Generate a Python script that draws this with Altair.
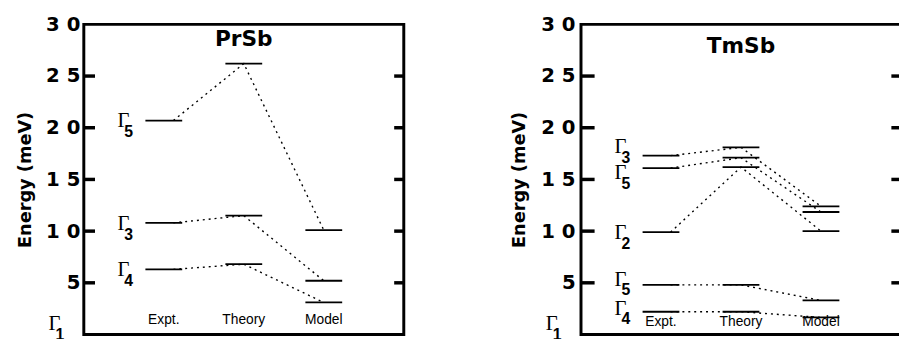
import altair as alt
import pandas as pd

# ---------------- data ----------------
columns = ["Expt.", "Theory", "Model"]
tick_values = [5, 10, 15, 20, 25]

prsb_labels = ["5", "3", "4"]
prsb_expt = [20.7, 10.8, 6.3]
prsb_theory = [26.2, 11.5, 6.8]
prsb_model = [10.1, 5.2, 3.1]

tmsb_labels = ["3", "5", "2", "5", "4"]
tmsb_expt = [17.3, 16.1, 9.9, 4.8, 2.2]
tmsb_theory = [18.1, 17.1, 16.2, 4.8, 2.2]
tmsb_model = [12.4, 11.85, 10.0, 3.3, 1.65]

ground_label = "1"
ground_energy = 0.0

# label nudges (meV) so the Γ symbols do not collide
prsb_label_shift = [0.0, 0.0, 0.0]
tmsb_label_shift = [0.9, -0.4, 0.0, 0.6, 0.4]

# ---------------- style ----------------
HALF = 0.23
XSCALE = alt.Scale(domain=[0, 4], nice=False, zero=False)
YSCALE = alt.Scale(domain=[0, 30], nice=False, zero=False)
LABEL_EXPR = ("datum.value == 0 ? '' : (datum.value >= 10 ? "
              "floor(datum.value / 10) + ' ' + (datum.value % 10) : '' + datum.value)")


def panel(title, title_e, labels, expt, theory, model, shift,
          left_tick, lab_pad, title_pad, cat_e):
    yaxis = alt.Axis(values=[0, 5, 10, 15, 20, 25, 30], labelExpr=LABEL_EXPR,
                     ticks=False, domain=False, grid=False,
                     labelFont="DejaVu Sans", labelFontWeight="bold",
                     labelFontSize=20, labelColor="black", labelPadding=lab_pad,
                     title="Energy (meV)", titleFont="DejaVu Sans",
                     titleFontWeight="bold", titleFontSize=18,
                     titleColor="black", titlePadding=title_pad)

    def Y():
        return alt.Y("E:Q", scale=YSCALE, axis=yaxis)

    lev = []
    for col, vals in zip([1, 2, 3], [expt, theory, model]):
        for v in vals:
            lev.append({"xa": col - HALF, "xb": col + HALF, "E": v})
    lev = pd.DataFrame(lev)

    con = []
    for i in range(len(expt)):
        for k, (xx, v) in enumerate(zip([1.12, 2.0, 3.0], [expt[i], theory[i], model[i]])):
            con.append({"id": i, "k": k, "x": xx, "E": v})
    con = pd.DataFrame(con)

    gam = [{"x": 0.42, "E": expt[i] + shift[i], "g": "Γ", "s": labels[i]}
           for i in range(len(expt))]
    gam.append({"x": -0.44, "E": ground_energy + 1.1, "g": "Γ", "s": ground_label})
    gam = pd.DataFrame(gam)

    cat = pd.DataFrame({"x": [1, 2, 3], "E": [cat_e] * 3, "t": columns})
    ttl = pd.DataFrame({"x": [2.0], "E": [title_e], "t": [title]})

    tk = []
    for t in tick_values:
        tk.append({"xa": 0, "xb": left_tick, "E": t})
        tk.append({"xa": 4 - 0.12, "xb": 4, "E": t})
    tk = pd.DataFrame(tk)

    levels = alt.Chart(lev).mark_rule(color="black", strokeWidth=1.8).encode(
        x=alt.X("xa:Q", scale=XSCALE, axis=None), x2="xb:Q", y=Y())
    ticks = alt.Chart(tk).mark_rule(color="black", strokeWidth=3.5).encode(
        x=alt.X("xa:Q", scale=XSCALE, axis=None), x2="xb:Q", y=Y())
    lines = alt.Chart(con).mark_line(color="black", strokeWidth=1.4,
                                     strokeDash=[2, 4]).encode(
        x=alt.X("x:Q", scale=XSCALE, axis=None), y=Y(), detail="id:N",
        order="k:Q")
    gsym = alt.Chart(gam).mark_text(font="Liberation Serif", fontSize=21,
                                    align="left", baseline="alphabetic",
                                    dy=7, color="black").encode(
        x=alt.X("x:Q", scale=XSCALE, axis=None), y=Y(), text="g:N")
    gsub = alt.Chart(gam).mark_text(font="Liberation Sans", fontWeight="bold",
                                    fontSize=16, align="left",
                                    baseline="alphabetic", dx=7, dy=17,
                                    color="black").encode(
        x=alt.X("x:Q", scale=XSCALE, axis=None), y=Y(), text="s:N")
    cats = alt.Chart(cat).mark_text(font="Liberation Sans", fontSize=14,
                                    baseline="middle", color="black").encode(
        x=alt.X("x:Q", scale=XSCALE, axis=None), y=Y(), text="t:N")
    tt = alt.Chart(ttl).mark_text(font="DejaVu Sans", fontWeight="bold",
                                  fontSize=22, baseline="middle",
                                  color="black").encode(
        x=alt.X("x:Q", scale=XSCALE, axis=None), y=Y(), text="t:N")

    return alt.layer(levels, ticks, lines, gsym, gsub, cats, tt).properties(
        width=325, height=315)


left = panel("PrSb", 28.6, prsb_labels, prsb_expt, prsb_theory, prsb_model,
             prsb_label_shift, 0.14, 4, 11, 1.4)
right = panel("TmSb", 27.9, tmsb_labels, tmsb_expt, tmsb_theory, tmsb_model,
              tmsb_label_shift, 0.17, 6, 12.5, 1.2)

chart = alt.hconcat(left, right, spacing=180, bounds="flush").properties(
    padding={"left": 7, "top": 2, "right": -6, "bottom": -4},
).configure_view(stroke="black", strokeWidth=3)

chart.save("out.html", embed_options={"renderer": "svg", "actions": False})
